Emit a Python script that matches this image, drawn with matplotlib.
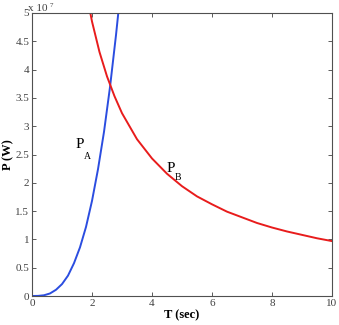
import matplotlib.pyplot as plt
import numpy as np

# values, P in units of 1e7 W
t_a = [0, 0.2, 0.4, 0.6, 0.8, 1.0, 1.2, 1.4, 1.6, 1.8, 2.0, 2.2, 2.4, 2.6, 2.8, 2.9]
p_a = [0, 0.002, 0.013, 0.045, 0.11, 0.21, 0.36, 0.58, 0.86, 1.22, 1.68, 2.24, 2.90, 3.69, 4.61, 5.12]

t_b = [1.8, 2.0, 2.25, 2.5, 2.75, 3.0, 3.5, 4.0, 4.5, 5.0, 5.5, 6.0, 6.5, 7.0, 7.5, 8.0, 8.5, 9.0, 9.5, 10.0]
p_b = [5.39, 4.85, 4.31, 3.88, 3.53, 3.23, 2.77, 2.43, 2.16, 1.94, 1.76, 1.62, 1.49, 1.39, 1.29, 1.21, 1.14, 1.08, 1.02, 0.97]

x_ticks = [0, 2, 4, 6, 8, 10]
y_ticks = [0, 0.5, 1, 1.5, 2, 2.5, 3, 3.5, 4, 4.5, 5]
y_labels = ['0', '0.5', '1', '1.5', '2', '2.5', '3', '3.5', '4', '4.5', '5']

fig = plt.figure(figsize=(3.39, 3.25), dpi=100)
ax = fig.add_axes([32 / 339, 29 / 325, 300 / 339, 283 / 325])

ax.plot(t_a, p_a, color='#2b4de0', linewidth=1.4)
ax.plot(t_b, p_b, color='#e81c1c', linewidth=1.4)

ax.set_xlim(0, 10)
ax.set_ylim(0, 5)
ax.set_xticks(x_ticks)
ax.set_yticks(y_ticks)
ax.set_yticklabels(y_labels)
for lab in ax.get_xticklabels() + ax.get_yticklabels():
    lab.set_fontfamily('Liberation Serif')
    lab.set_fontsize(8)
    lab.set_color('#404040')
ax.tick_params(direction='in', length=3, width=0.6, top=True, right=True,
               color='#404040', pad=2)
for s in ax.spines.values():
    s.set_color('#505050')
    s.set_linewidth(0.8)

ax.set_xlabel('T (sec)', fontfamily='Liberation Serif', fontweight='bold',
              fontsize=9, labelpad=1)
ax.set_ylabel('P (W)', fontfamily='Liberation Serif', fontweight='bold',
              fontsize=9, labelpad=1)

ax.text(1.6, 2.67, 'P', fontfamily='Liberation Serif', fontsize=11,
        ha='center', va='center')
ax.text(1.85, 2.47, 'A', fontfamily='Liberation Serif', fontsize=7,
        ha='center', va='center')
ax.text(4.62, 2.26, 'P', fontfamily='Liberation Serif', fontsize=11,
        ha='center', va='center')
ax.text(4.88, 2.1, 'B', fontfamily='Liberation Serif', fontsize=7,
        ha='center', va='center')

fig.text(28 / 339, 1 - 11 / 325, 'x 10', fontfamily='Liberation Serif',
         fontsize=8, color='#404040', va='baseline')
fig.text(50 / 339, 1 - 7 / 325, '7', fontfamily='Liberation Serif',
         fontsize=5, color='#404040', va='baseline')

fig.savefig('out.png', dpi=100)
